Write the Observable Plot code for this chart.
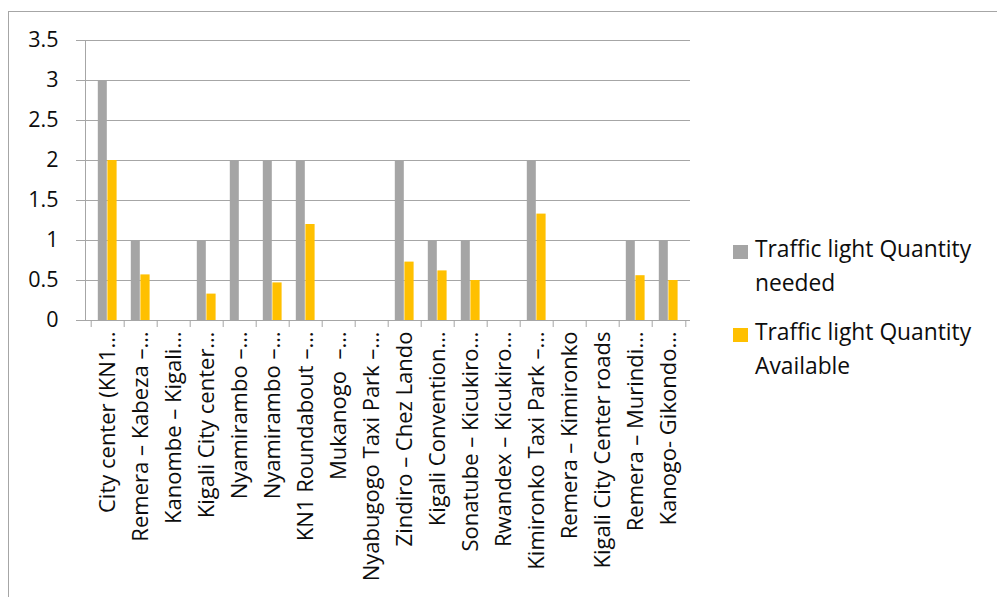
<!DOCTYPE html>
<html>
<head>
<meta charset="utf-8">
<script src="https://cdn.jsdelivr.net/npm/d3@7"></script>
<script src="https://cdn.jsdelivr.net/npm/@observablehq/plot@0.6"></script>
<style>
  html, body { margin: 0; padding: 0; background: #fff; }
  body { width: 997px; height: 597px; position: relative; overflow: hidden;
         font-family: "Open Sans", sans-serif; }
  #chart { position: absolute; left: 0; top: 0; }
  .border { position: absolute; left: 8px; top: 11px; width: 1200px; height: 700px;
            border-left: 1px solid #a6a6a6; border-top: 1px solid #a6a6a6; }
  .legend { position: absolute; left: 733px; top: 232px; font-size: 22.8px; color: #0d0d0d; }
  .legend .item { position: relative; padding-left: 22px; line-height: 33.5px; margin-bottom: 16px; white-space: nowrap; }
  .legend .sw { position: absolute; left: 0; top: 13px; width: 15px; height: 14px; }
</style>
</head>
<body>
<div class="border"></div>
<div id="chart"></div>
<div class="legend" id="legend"></div>
<script>
// Road sections (axis labels as printed, truncated where long)
const labels = [
  "City center (KN1…",
  "Remera – Kabeza –…",
  "Kanombe – Kigali…",
  "Kigali City center…",
  "Nyamirambo –…",
  "Nyamirambo –…",
  "KN1 Roundabout –…",
  "Mukanogo  –…",
  "Nyabugogo Taxi Park –…",
  "Zindiro – Chez Lando",
  "Kigali Convention…",
  "Sonatube – Kicukiro…",
  "Rwandex – Kicukiro…",
  "Kimironko Taxi Park –…",
  "Remera – Kimironko",
  "Kigali City Center roads",
  "Remera – Murindi…",
  "Kanogo- Gikondo…"
];

// Traffic lights needed at each section
const needed = [3, 1, 0, 1, 2, 2, 2, 0, 0, 2, 1, 1, 0, 2, 0, 0, 1, 1];

// Traffic lights available at each section
const available = [2, 0.57, 0, 0.33, 0, 0.47, 1.2, 0, 0, 0.73, 0.62, 0.5, 0, 1.33, 0, 0, 0.56, 0.5];

const yTicks = [0, 0.5, 1, 1.5, 2, 2.5, 3, 3.5];

const seriesNames = ["Traffic light Quantity needed", "Traffic light Quantity Available"];
const seriesColors = ["#a5a5a5", "#ffc000"];

const rows = labels.map((label, i) => ({i, label, needed: needed[i], available: available[i]}));
const idx = rows.map(d => d.i);

const W = 997, H = 597;
const mL = 85, mR = 307, mT = 40, mB = 277;
const step = (W - mL - mR) / labels.length;
const gridColor = "#a6a6a6";
const font = "'Open Sans', sans-serif";

const chart = Plot.plot({
  width: W,
  height: H,
  marginLeft: mL,
  marginRight: mR,
  marginTop: mT,
  marginBottom: mB,
  style: {fontFamily: font, fontSize: "22px", color: "#0d0d0d", background: "transparent"},
  x: {type: "band", domain: idx, padding: 0},
  y: {domain: [0, 3.5]},
  marks: [
    Plot.gridY(yTicks, {stroke: gridColor, strokeOpacity: 1}),
    Plot.axisY(yTicks, {tickSize: 9, tickPadding: 18, stroke: gridColor, fontSize: 21.5,
      tickFormat: d => String(d), label: null}),
    Plot.frame({anchor: "left", stroke: gridColor}),
    Plot.axisX(idx, {tickSize: 7, text: null, stroke: gridColor, dx: -step / 2, label: null}),
    Plot.axisX([idx[idx.length - 1]], {tickSize: 7, text: null, stroke: gridColor, dx: step / 2, label: null}),
    Plot.axisX(idx, {tickSize: 0, tickPadding: 11, tickRotate: -90, fontSize: 22,
      tickFormat: i => labels[i], label: null}),
    Plot.barY(rows, {x: "i", y: "needed", fill: seriesColors[0], insetLeft: 6.8, insetRight: 17.2}),
    Plot.barY(rows, {x: "i", y: "available", fill: seriesColors[1], insetLeft: 16.4, insetRight: 7.4})
  ]
});
document.getElementById("chart").appendChild(chart);

const legend = document.getElementById("legend");
seriesNames.forEach((name, k) => {
  const item = document.createElement("div");
  item.className = "item";
  const sw = document.createElement("span");
  sw.className = "sw";
  sw.style.background = seriesColors[k];
  item.appendChild(sw);
  const words = name.split(" ");
  item.appendChild(document.createTextNode(words.slice(0, 3).join(" ")));
  item.appendChild(document.createElement("br"));
  item.appendChild(document.createTextNode(words.slice(3).join(" ")));
  legend.appendChild(item);
});
</script>
</body>
</html>
